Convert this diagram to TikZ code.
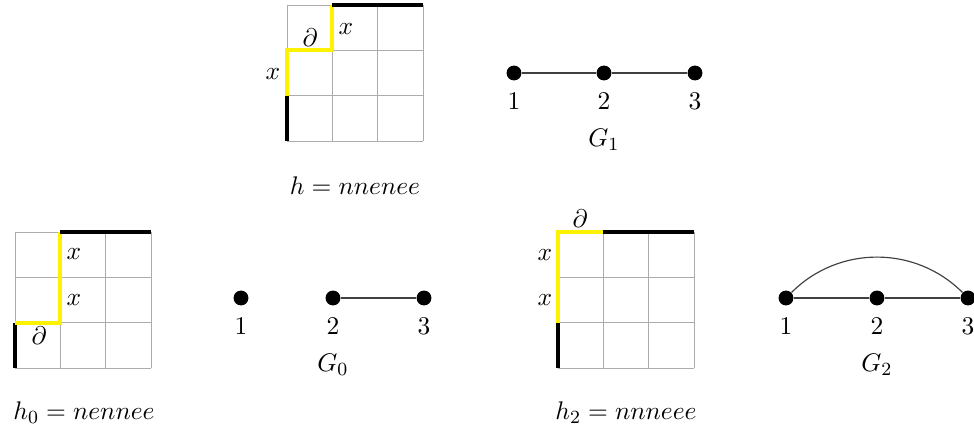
\documentclass[tikz,border=0pt]{standalone}
\usetikzlibrary{calc}
\begin{document}
\begin{tikzpicture}[x=0.43pt,y=-0.43pt,
  every node/.style={font=\fontsize{11.2pt}{13.5pt}\selectfont},
  gridline/.style={draw=gray!65,line width=0.4pt},
  ypath/.style={draw=yellow,line width=1.7pt},
  bpath/.style={draw=black,line width=1.7pt},
  vtx/.style={circle,fill=black,inner sep=0pt,minimum size=6.4pt},
  vlab/.style={inner sep=0pt},
  edge/.style={draw=black!75,line width=0.5pt}]
\useasboundingbox (0,0) rectangle (974,432);

% ---------- top grid (h = nnenee) ----------
\begin{scope}[shift={(287,5)}]
  \foreach \i in {0,1,2,3} {
    \draw[gridline] (\i*45.33,0) -- (\i*45.33,136);
    \draw[gridline] (0,\i*45.33) -- (136,\i*45.33);
  }
  \draw[bpath] (0,136) -- (0,90.67);
  \draw[ypath] (0,90.67) -- (0,45.33) -- (45.33,45.33) -- (45.33,0);
  \draw[bpath] (45.33,0) -- (136,0);
  \node (tx1) at (-14,69) {$x$};
  \node (td) at (23,33) {$\partial$};
  \node (tx2) at (59,24) {$x$};
\end{scope}
\node (h) at (355,186) {$h=nnenee$};

% ---------- G1 ----------
\node[vtx] (a1) at (514,73) {};
\node[vtx] (a2) at (604,73) {};
\node[vtx] (a3) at (695,73) {};
\draw[edge] (a1) -- (a2);
\draw[edge] (a2) -- (a3);
\node[vlab] (la1) at (514,101) {$1$};
\node[vlab] (la2) at (604,101) {$2$};
\node[vlab] (la3) at (695,101) {$3$};
\node (g1) at (604,140) {$G_1$};

% ---------- bottom-left grid (h0 = nennee) ----------
\begin{scope}[shift={(15,232)}]
  \foreach \i in {0,1,2,3} {
    \draw[gridline] (\i*45.33,0) -- (\i*45.33,136);
    \draw[gridline] (0,\i*45.33) -- (136,\i*45.33);
  }
  \draw[bpath] (0,136) -- (0,90.67);
  \draw[ypath] (0,90.67) -- (45.33,90.67) -- (45.33,0);
  \draw[bpath] (45.33,0) -- (136,0);
  \node (bx1) at (59,22) {$x$};
  \node (bx2) at (59,68) {$x$};
  \node (bd) at (24,104) {$\partial$};
\end{scope}
\node (h0) at (84,413) {$h_0=nennee$};

% ---------- G0 ----------
\node[vtx] (b1) at (241,298) {};
\node[vtx] (b2) at (333,298) {};
\node[vtx] (b3) at (424,298) {};
\draw[edge] (b2) -- (b3);
\node[vlab] (lb1) at (241,326) {$1$};
\node[vlab] (lb2) at (333,326) {$2$};
\node[vlab] (lb3) at (424,326) {$3$};
\node (g0) at (333,365) {$G_0$};

% ---------- bottom-middle grid (h2 = nnneee) ----------
\begin{scope}[shift={(558,232)}]
  \foreach \i in {0,1,2,3} {
    \draw[gridline] (\i*45.33,0) -- (\i*45.33,136);
    \draw[gridline] (0,\i*45.33) -- (136,\i*45.33);
  }
  \draw[bpath] (0,136) -- (0,90.67);
  \draw[ypath] (0,90.67) -- (0,0) -- (45.33,0);
  \draw[bpath] (45.33,0) -- (136,0);
  \node (cx1) at (-13,23) {$x$};
  \node (cx2) at (-13,68) {$x$};
  \node (cd) at (22,-13) {$\partial$};
\end{scope}
\node (h2) at (626,413) {$h_2=nnneee$};

% ---------- G2 ----------
\node[vtx] (c1) at (786,298) {};
\node[vtx] (c2) at (877,298) {};
\node[vtx] (c3) at (968,298) {};
\draw[edge] (c1) -- (c2);
\draw[edge] (c2) -- (c3);
\draw[edge] (c1) to[out=45,in=135] (c3);
\node[vlab] (lc1) at (786,326) {$1$};
\node[vlab] (lc2) at (877,326) {$2$};
\node[vlab] (lc3) at (968,326) {$3$};
\node (g2) at (877,365) {$G_2$};
\end{tikzpicture}
\end{document}
